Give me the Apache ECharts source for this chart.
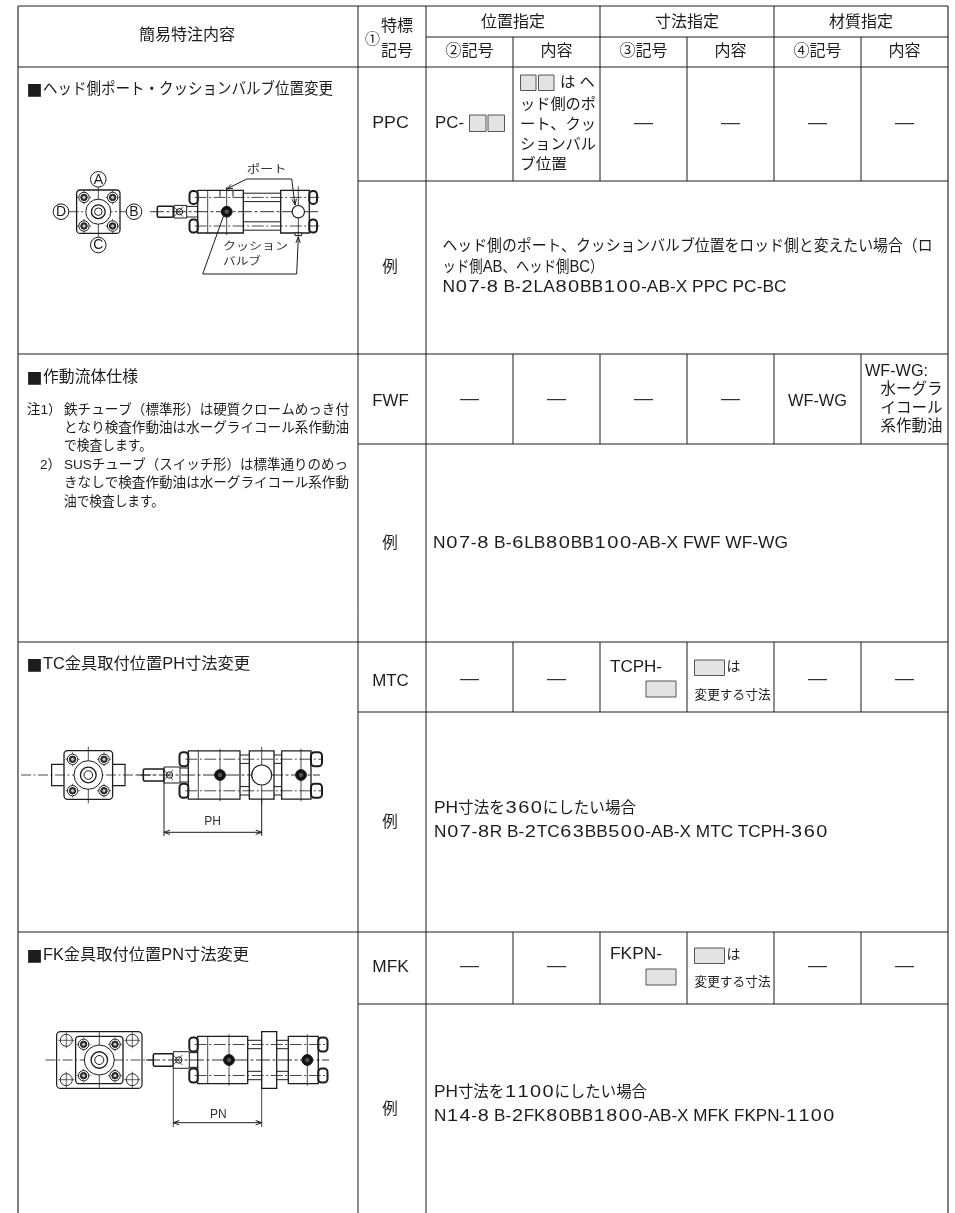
<!DOCTYPE html>
<html><head><meta charset="utf-8">
<style>html,body{margin:0;padding:0;background:#fff}#c{width:955px;height:1213px}</style>
<script src="https://cdn.jsdelivr.net/npm/echarts@6/dist/echarts.min.js"></script>
</head><body><div id="c"></div>
<script>
// ---------- content ----------
const headerMain = '簡易特注内容';
const headerCode = ['特標', '記号'];
const headerCircle1 = '①';
const headerGroups = ['位置指定', '寸法指定', '材質指定'];
const headerSubs = ['②記号', '内容', '③記号', '内容', '④記号', '内容'];
const titleMark = '■';
const rowTitles = ['ヘッド側ポート・クッションバルブ位置変更', '作動流体仕様', 'TC金具取付位置PH寸法変更', 'FK金具取付位置PN寸法変更'];
const rowCodes = ['PPC', 'FWF', 'MTC', 'MFK'];
const exampleWord = '例';
const noDash = '—';
const ppcCode = 'PC-';
const ppcDesc = ['は ヘ', 'ッド側のポ', 'ート、クッ', 'ションバル', 'ブ位置'];
const fwfCode = 'WF-WG';
const fwfDesc = ['WF-WG:', '水ーグラ', 'イコール', '系作動油'];
const tcCode = 'TCPH-';
const fkCode = 'FKPN-';
const sizeWa = 'は';
const sizeDesc = '変更する寸法';
const example1 = ['ヘッド側のポート、クッションバルブ位置をロッド側と変えたい場合\uFF08ロ', 'ッド側AB、ヘッド側BC\uFF09', 'N07-8 B-2LA80BB100-AB-X PPC PC-BC'];
const example2 = ['N07-8 B-6LB80BB100-AB-X FWF WF-WG'];
const example3 = ['PH寸法を360にしたい場合', 'N07-8R B-2TC63BB500-AB-X MTC TCPH-360'];
const example4 = ['PH寸法を1100にしたい場合', 'N14-8 B-2FK80BB1800-AB-X MFK FKPN-1100'];
const notes = [['注1\uFF09', '鉄チューブ\uFF08標準形\uFF09は硬質クロームめっき付'], ['', 'となり検査作動油は水ーグライコール系作動油'], ['', 'で検査します。'], ['2\uFF09', 'SUSチューブ\uFF08スイッチ形\uFF09は標準通りのめっ'], ['', 'きなしで検査作動油は水ーグライコール系作動'], ['', '油で検査します。']];
const letters = ['A', 'B', 'C', 'D'];
const portLabel = 'ポート';
const valveLabel = ['クッション', 'バルブ'];
const dimLabels = ['PH', 'PN'];

// ---------- layout ----------
const FF = '"Liberation Sans","Noto Sans CJK JP",sans-serif';
const FJ = '"Noto Sans CJK JP",sans-serif';
const INK = '#1c1c1c';
const X = { l: 18, a: 358, b: 426, c: [513, 600, 687, 774, 861, 948] };
const Y = { top: 6, mid: 37, head: 67, r1: [181, 354], r2: [444, 642], r3: [712, 932], r4: [1004, 1213] };
const els = [];
const seg = (x1, y1, x2, y2, w, c, dash, z) => els.push({ type: 'line', shape: { x1, y1, x2, y2 }, z: z || 5, style: { stroke: c || INK, lineWidth: w || 1, lineDash: dash || null } });
const poly = (pts, w) => els.push({ type: 'polyline', shape: { points: pts }, z: 6, style: { stroke: INK, fill: null, lineWidth: w || 1 } });
const rect = (x, y, w, h, o) => { o = o || {}; els.push({ type: 'rect', shape: { x, y, width: w, height: h, r: o.r || 0 }, z: o.z || 4, style: { fill: o.fill || '#fff', stroke: o.stroke || INK, lineWidth: o.w || 1 } }); };
const circ = (cx, cy, r, o) => { o = o || {}; els.push({ type: 'circle', shape: { cx, cy, r }, z: o.z || 5, style: { fill: o.fill === undefined ? '#fff' : o.fill, stroke: o.stroke || INK, lineWidth: o.w || 1 } }); };
const mctx = document.createElement('canvas').getContext('2d');
const widthOf = (s, size, fam) => { mctx.font = size + 'px ' + (fam || FF); return mctx.measureText(s).width; };
function text(x, y, s, size, o) {
  o = o || {};
  const sx = o.fit ? o.fit / widthOf(s, size, o.family) : (o.sx || 1);
  els.push({ type: 'text', x, y, scaleX: sx, z: 10, style: { text: s, font: size + 'px ' + (o.family || FF), fill: o.fill || INK, textAlign: o.align || 'left', textVerticalAlign: 'middle' } });
}
const ctr = (x, y, s, size, o) => text(x, y, s, size, Object.assign({ align: 'center' }, o || {}));
// Lays out a mixed line run by run: wide digits, slightly wide latin, CJK; scaled as a whole to its measured width.
function mixed(x, y, s, o) {
  const cjk = o.cjk || 15.5, lat = o.lat || 16, latS = o.latS || 1.08, dig = o.dig || 12.6, digS = o.digS || 1.25;
  const runs = s.match(/\d|[A-Za-z\- :.]+|[^\dA-Za-z\- :.]+/g).map(t => {
    if (/^\d$/.test(t)) return { t, size: lat, w: dig, sx: digS, digit: true };
    if (/^[A-Za-z\- :.]+$/.test(t)) return { t, size: lat, w: widthOf(t, lat) * latS, sx: latS };
    return { t, size: cjk, w: widthOf(t, cjk), sx: 1 };
  });
  const total = runs.reduce((a, r) => a + r.w, 0);
  const f = o.fit ? o.fit / total : 1;
  let cx = x;
  runs.forEach(r => {
    if (r.digit) text(cx + r.w * f / 2, y, r.t, r.size, { align: 'center', sx: r.sx * f });
    else text(cx, y, r.t, r.size, { sx: r.sx * f });
    cx += r.w * f;
  });
}
const arrow = (x, y, dx, dy) => {
  const L = 6, W = 2.2;
  poly([[x - dx * L - dy * W, y - dy * L + dx * W], [x, y], [x - dx * L + dy * W, y - dy * L - dx * W]], 1);
};
const swatch = (x, y, w, h) => rect(x, y, w, h, { fill: '#e3e3e3', stroke: '#555', w: 1 });

// ---------- table grid ----------
seg(X.l, Y.top, X.c[5], Y.top);
seg(X.b, Y.top, X.b, 1213);
seg(X.l, Y.top, X.l, 1213, 1.5, '#555'); seg(X.a, Y.top, X.a, 1213); seg(X.c[5], Y.top, X.c[5], 1213, 1.5, '#555');
seg(X.b, Y.mid, X.c[5], Y.mid);
seg(X.l, Y.head, X.c[5], Y.head);
[Y.r1, Y.r2, Y.r3].forEach(r => { seg(X.l, r[1], X.c[5], r[1]); });
[Y.r1[0], Y.r2[0], Y.r3[0], Y.r4[0]].forEach(y => seg(X.a, y, X.c[5], y));
const rowTops = [Y.head, Y.r1[1], Y.r2[1], Y.r3[1]];
const rowBots = [Y.r1[0], Y.r2[0], Y.r3[0], Y.r4[0]];
rowTops.forEach((t, i) => X.c.slice(0, 5).forEach(x => seg(x, t, x, rowBots[i])));
[1, 3].forEach(i => seg(X.c[i], Y.top, X.c[i], Y.head));
[0, 2, 4].forEach(i => seg(X.c[i], Y.mid, X.c[i], Y.head));

// ---------- header ----------
ctr(187, 36, headerMain, 16);
ctr(372.5, 40, headerCircle1, 15);
ctr(397, 27, headerCode[0], 16); ctr(397, 52, headerCode[1], 16);
[[426, 600], [600, 774], [774, 948]].forEach((c, i) => ctr((c[0] + c[1]) / 2, 23, headerGroups[i], 16));
const cols = [X.b].concat(X.c);
headerSubs.forEach((s, i) => ctr((cols[i] + cols[i + 1]) / 2, 52, s, 16));

// ---------- rows ----------
const titleY = [90, 378, 665, 956];
const titleFit = [290, 95, 207, 206];
rowTitles.forEach((s, i) => {
  text(26.5, titleY[i], titleMark, 16, { family: FJ });
  mixed(43, titleY[i], s, { cjk: 16, lat: 16, latS: 1, fit: titleFit[i] });
});
const codeY = [123, 401, 681, 967];
rowCodes.forEach((s, i) => ctr(390.5, codeY[i], s, 16.5, { fit: 36.5 }));
const exY = [268, 544, 823, 1110];
exY.forEach(y => ctr(390, y, exampleWord, 15.5));
const dash = (i, y) => ctr((cols[i] + cols[i + 1]) / 2, y, noDash, 19, { fill: '#333' });
[2, 3, 4, 5].forEach(i => dash(i, 123));
[0, 1, 2, 3].forEach(i => dash(i, 399));
[0, 1, 4, 5].forEach(i => dash(i, 679));
[0, 1, 4, 5].forEach(i => dash(i, 966));

// PPC cell
text(435, 123, ppcCode, 16.5, { fit: 29 });
swatch(469.5, 115, 16.5, 16.5); swatch(488, 115, 16.5, 16.5);
swatch(520.5, 75, 15.5, 15.5); swatch(538.5, 75, 15.5, 15.5);
text(560, 83, ppcDesc[0], 15.3);
ppcDesc.slice(1).forEach((s, i) => text(520, 105 + i * 20, s, 15.3, { fit: i < 3 ? 76 : 47 }));
// FWF cell
ctr(817.5, 401.5, fwfCode, 16, { fit: 59 });
text(865, 372, fwfDesc[0], 16, { fit: 63 });
fwfDesc.slice(1).forEach((s, i) => text(880.5, 390 + i * 18.4, s, 15.5));
// TC, FK cells
[[tcCode, 668, 681, 660, 695], [fkCode, 955, 969, 948, 982]].forEach(r => {
  text(610, r[1], r[0], 16, { fit: 52 });
  swatch(646, r[2], 30, 16);
  swatch(694.5, r[3], 30, 15.5);
  text(726.5, r[3] + 7.5, sizeWa, 14);
  text(694.5, r[4], sizeDesc, 12.7);
});
// Examples
mixed(442.5, 247, example1[0], { fit: 490 });
mixed(442.5, 268, example1[1], { fit: 161 });
mixed(442.5, 288, example1[2], { fit: 344 });
mixed(433, 544, example2[0], { fit: 355 });
mixed(434, 809, example3[0], { fit: 202 });
mixed(434, 833, example3[1], { fit: 394 });
mixed(434, 1093, example4[0], { fit: 213 });
mixed(434, 1117, example4[1], { fit: 401 });
// Notes
const noteY = [410, 428, 446.5, 465, 483.5, 502];
const noteFit = [285, 285, 88, 284, 285, 100];
notes.forEach((n, i) => {
  if (n[0]) text(n[0] === notes[3][0] ? 40 : 27, noteY[i], n[0], 13.5);
  mixed(64, noteY[i], n[1], { cjk: 13.5, lat: 13.5, latS: 1, fit: noteFit[i] });
});

// ---------- drawings ----------
function bolt(cx, cy, r) {
  circ(cx, cy, r, { w: 1 });
  circ(cx, cy, r * 0.62, { fill: '#333', w: 1 });
  circ(cx, cy, r * 0.25, { fill: '#ccc', stroke: '#ccc', w: 0.5 });
}
function front(cx, cy, o) {
  if (o.lugs) rect(cx - 36.7, cy - 10.7, 73.4, 21.4, { w: 1.2, z: 3 });
  if (o.plate) {
    rect(cx - 42.7, cy - 28.4, 85.4, 56.8, { r: 4, w: 1.2, z: 2 });
    [[-33, -19.7], [33, -19.7], [-33, 19.7], [33, 19.7]].forEach(p => {
      circ(cx + p[0], cy + p[1], 6, { w: 0.9 });
      seg(cx + p[0] - 8, cy + p[1], cx + p[0] + 8, cy + p[1], 0.7);
      seg(cx + p[0], cy + p[1] - 8, cx + p[0], cy + p[1] + 8, 0.7);
    });
  }
  rect(cx - o.h, cy - o.h, o.h * 2, o.h * 2, { r: 3.5, w: 1.3 });
  seg(cx - o.h - (o.cx || 9), cy, cx + o.h + (o.cx || 9), cy, 0.8, INK, [10, 2.5, 2, 2.5]);
  seg(cx, cy - o.h - 4, cx, cy + o.h + 4, 0.8, INK);
  circ(cx, cy, o.r, { w: 1 });
  circ(cx, cy, o.r * 0.55, { w: 1.3 });
  circ(cx, cy, o.r * 0.3, { w: 1 });
  [[-1, -1], [1, -1], [-1, 1], [1, 1]].forEach(p => {
    const x = cx + p[0] * o.b, y = cy + p[1] * o.b;
    seg(x - 7, y, x + 7, y, 0.7); seg(x, y - 7, x, y + 7, 0.7);
    bolt(x, y, 5.2);
  });
}
function side(cy, o) {
  rect(o.rod[0], cy - o.rod[2], o.rod[1] - o.rod[0], o.rod[2] * 2, { r: 1.5, w: 1.6 });
  rect(o.joint[0], cy - o.joint[2], o.joint[1] - o.joint[0], o.joint[2] * 2, { w: 1 });
  circ(o.joint[0] + 5.5, cy, 3.2, { w: 1 });
  seg(o.joint[0], cy - 5, o.joint[0] + 9, cy + 5, 0.7); seg(o.joint[0], cy + 5, o.joint[0] + 9, cy - 5, 0.7);
  const first = o.blocks[0], last = o.blocks[o.blocks.length - 1];
  [-1, 1].forEach(s => {
    const y = cy + s * o.tie;
    rect(o.boltL[0], y - o.bh, o.boltL[1] - o.boltL[0], o.bh * 2, { r: 3.5, w: 2, z: 5 });
    rect(o.boltR[0], y - o.bh, o.boltR[1] - o.boltR[0], o.bh * 2, { r: 3.5, w: 2, z: 5 });
    seg(first[1], y - 4.2, last[0], y - 4.2, 1, INK, null, 3);
    seg(first[1], y + 4.2, last[0], y + 4.2, 1, INK, null, 3);
    seg(first[0] - 3, y, last[1] + 10, y, 0.8, INK, [12, 2.5, 2, 2.5], 6);
  });
  o.blocks.forEach(b => rect(b[0], cy - (b[2] || o.H), b[1] - b[0], (b[2] || o.H) * 2, { w: 1.3, z: 4 }));
  seg(o.line[0], cy, o.line[1], cy, 0.9, INK, [14, 2.5, 3, 2.5]);
  seg(first[0] + 10, cy - o.H, first[0] + 10, cy + o.H, 0.8);
  seg(o.joint[1], cy - o.joint[2] + 1, first[0], cy - o.joint[2] + 1, 1);
  seg(o.joint[1], cy + o.joint[2] - 1, first[0], cy + o.joint[2] - 1, 1);
  (o.valves || []).forEach(x => {
    seg(x, cy - o.H - 2, x, cy + o.H + 2, 0.8);
    circ(x, cy, 5.4, { fill: '#111', z: 7 });
    circ(x, cy, 2, { fill: '#555', stroke: '#555', w: 0.5, z: 8 });
  });
  (o.port || []).forEach(p => {
    seg(p[0], cy - o.H - 4, p[0], cy + o.H + 4, 0.8);
    circ(p[0], cy, p[1], { w: 1.2, z: 7 });
  });
}
// drawing 1
front(98.3, 211.7, { h: 21.7, r: 12.5, b: 14.3, cx: 8 });
[[98.3, 179.3], [134, 211.7], [98.3, 245], [61, 211.7]].forEach((p, i) => {
  circ(p[0], p[1], 7.8, { w: 1, z: 9 });
  ctr(p[0], p[1] + 0.5, letters[i], 14, { fill: INK });
});
side(211.7, { rod: [157.3, 173.3, 5.5], joint: [174, 186.7, 6.3], boltL: [189.5, 197.7], boltR: [309.3, 317], blocks: [[197.7, 243.3], [280.7, 309.3]], H: 21.3, tie: 14.3, bh: 6.5, line: [150, 318], valves: [226.7], port: [[298.3, 6.2]] });
rect(295, 233, 6.7, 2.6, { w: 1 });
seg(220, 190.7, 220, 196.7, 1); seg(233, 190.7, 233, 196.7, 1); seg(226.7, 187, 226.7, 190.7, 0.8);
text(266.7, 170, portLabel, 10.8, { align: 'center', fill: '#333', fit: 40 });
poly([[226.7, 189], [246.7, 179], [291.7, 179], [295, 205]], 1);
arrow(226.7, 189, -0.894, 0.447); arrow(295, 205, 0.13, 0.99);
poly([[226, 209], [202.7, 274], [296.7, 274], [298.3, 237]], 1);
arrow(226, 209, 0.337, -0.941); arrow(298.3, 237, 0.04, -0.99);
text(223, 247, valveLabel[0], 10.8, { fill: '#333', fit: 65 });
text(223, 262, valveLabel[1], 10.8, { fill: '#333', fit: 38 });
// drawing 2
front(88.3, 775, { h: 24.3, r: 14.3, b: 15.7, cx: 43, lugs: true });
side(775, { rod: [143.3, 164, 6], joint: [164, 180, 8], boltL: [179.5, 188.3], boltR: [311, 322], blocks: [[188.3, 240], [249.3, 274], [281.7, 311]], H: 24.2, tie: 15.8, bh: 7, line: [137, 320], valves: [220, 301], port: [[261.7, 10]] });
seg(164, 768, 164, 836, 1); seg(261.7, 799, 261.7, 836, 1);
seg(164, 832.3, 261.7, 832.3, 1);
arrow(164, 832.3, -1, 0); arrow(261.7, 832.3, 1, 0);
ctr(212.7, 821.7, dimLabels[0], 12, { fill: '#333' });
// drawing 3
front(99.3, 1060, { h: 23.7, r: 15, b: 15.7, cx: 30, plate: true });
side(1060, { rod: [153.3, 173.3, 6.3], joint: [173.3, 189.3, 8.3], boltL: [189.3, 197.7], boltR: [318.3, 327.5], blocks: [[197.7, 247.7], [261.7, 276.7, 28.4], [288.3, 318.3]], H: 23.7, tie: 15.5, bh: 7, line: [146, 329], valves: [229, 307.3] });
seg(173.3, 1060, 173.3, 1127, 1, '#444'); seg(261.7, 1089, 261.7, 1127, 1, '#444');
seg(173.3, 1122.7, 261.7, 1122.7, 1);
arrow(173.3, 1122.7, -1, 0); arrow(261.7, 1122.7, 1, 0);
ctr(218.3, 1115, dimLabels[1], 12, { fill: '#333' });

const chart = echarts.init(document.getElementById('c'), null, { renderer: 'canvas' });
chart.setOption({ backgroundColor: '#fff', animation: false, graphic: { elements: els } });
</script></body></html>
